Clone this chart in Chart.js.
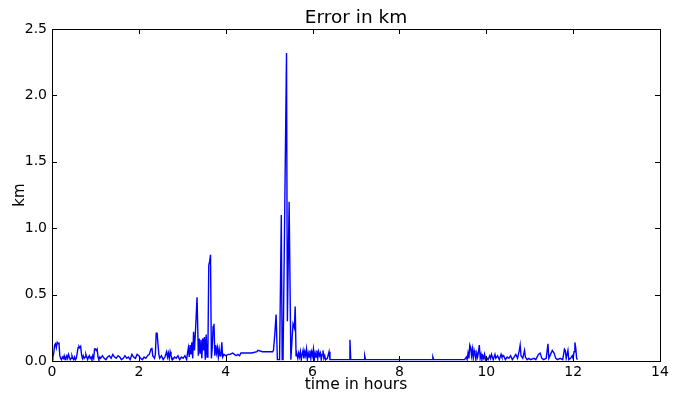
<!DOCTYPE html>
<html>
<head>
<meta charset="utf-8">
<title>Error in km</title>
<script src="https://cdn.jsdelivr.net/npm/chart.js@4.4.1/dist/chart.umd.min.js"></script>
<style>
  html, body { margin: 0; padding: 0; background: #fff; }
  #wrap { width: 681px; height: 394px; }
</style>
</head>
<body>
<div id="wrap"><canvas id="chart" width="681" height="394"></canvas></div>
<script>
// ── DATA ──────────────────────────────────────────────────────────────────
// (hours, km)
const timeHours = [
  0.00, 0.02, 0.04, 0.06, 0.08, 0.10, 0.12, 0.14, 0.16, 0.18, 0.20, 0.22, 0.24, 0.26, 0.28, 0.30,
  0.32, 0.34, 0.36, 0.38, 0.40, 0.42, 0.44, 0.46, 0.48, 0.50, 0.52, 0.54, 0.56, 0.58, 0.60, 0.62,
  0.64, 0.66, 0.68, 0.70, 0.72, 0.74, 0.76, 0.78, 0.80, 0.82, 0.84, 0.86, 0.88, 0.90, 0.92, 0.94,
  0.96, 0.98, 1.00, 1.02, 1.04, 1.06, 1.08, 1.10, 1.12, 1.16, 1.20, 1.24, 1.28, 1.32, 1.36, 1.40,
  1.44, 1.48, 1.52, 1.56, 1.60, 1.64, 1.68, 1.72, 1.76, 1.80, 1.84, 1.88, 1.92, 1.96, 2.00, 2.04,
  2.08, 2.12, 2.16, 2.20, 2.24, 2.28, 2.30, 2.32, 2.34, 2.36, 2.38, 2.40, 2.42, 2.44, 2.46, 2.48,
  2.52, 2.56, 2.60, 2.64, 2.66, 2.68, 2.70, 2.72, 2.74, 2.78, 2.82, 2.86, 2.90, 2.94, 2.98, 3.02,
  3.06, 3.10, 3.12, 3.14, 3.16, 3.18, 3.20, 3.22, 3.24, 3.26, 3.28, 3.30, 3.34, 3.37, 3.39, 3.41,
  3.43, 3.45, 3.47, 3.49, 3.51, 3.53, 3.55, 3.57, 3.59, 3.61, 3.63, 3.65, 3.67, 3.69, 3.71, 3.73,
  3.75, 3.77, 3.79, 3.81, 3.83, 3.85, 3.87, 3.89, 3.91, 3.93, 3.96, 4.00, 4.06, 4.10, 4.16, 4.20,
  4.24, 4.28, 4.32, 4.35, 4.45, 4.60, 4.72, 4.74, 4.85, 5.00, 5.08, 5.10, 5.13, 5.16, 5.19, 5.24,
  5.28, 5.30, 5.32, 5.40, 5.42, 5.46, 5.50, 5.53, 5.55, 5.58, 5.60, 5.62, 5.64, 5.66, 5.68, 5.70,
  5.72, 5.74, 5.76, 5.78, 5.80, 5.82, 5.84, 5.86, 5.88, 5.90, 5.92, 5.94, 5.96, 5.98, 6.00, 6.02,
  6.04, 6.06, 6.08, 6.10, 6.12, 6.14, 6.16, 6.18, 6.20, 6.22, 6.24, 6.26, 6.28, 6.30, 6.34, 6.38,
  6.40, 6.45, 6.60, 6.84, 6.86, 6.88, 7.00, 7.19, 7.20, 7.22, 7.50, 8.00, 8.40, 8.75, 8.77, 8.79,
  9.20, 9.50, 9.54, 9.56, 9.58, 9.60, 9.62, 9.64, 9.66, 9.68, 9.70, 9.72, 9.74, 9.76, 9.78, 9.80,
  9.82, 9.84, 9.86, 9.88, 9.90, 9.92, 9.94, 9.96, 9.98, 10.00, 10.04, 10.08, 10.10, 10.12, 10.16, 10.20,
  10.22, 10.26, 10.30, 10.34, 10.36, 10.40, 10.44, 10.48, 10.52, 10.56, 10.60, 10.64, 10.68, 10.72, 10.76, 10.78,
  10.80, 10.84, 10.88, 10.90, 10.94, 10.98, 11.02, 11.10, 11.14, 11.20, 11.24, 11.28, 11.32, 11.38, 11.42, 11.44,
  11.48, 11.52, 11.56, 11.60, 11.64, 11.70, 11.76, 11.80, 11.82, 11.84, 11.88, 11.90, 11.94, 11.98, 12.00, 12.02,
  12.04, 12.06, 12.08, 12.10
];
const errorKm = [
  0.05, 0.03, 0.06, 0.12, 0.13, 0.10, 0.14, 0.13, 0.14, 0.04, 0.02, 0.01, 0.03, 0.02, 0.04, 0.01,
  0.03, 0.04, 0.02, 0.05, 0.03, 0.01, 0.02, 0.04, 0.02, 0.01, 0.03, 0.01, 0.02, 0.06, 0.10, 0.11,
  0.10, 0.11, 0.05, 0.02, 0.04, 0.02, 0.03, 0.05, 0.03, 0.01, 0.03, 0.04, 0.02, 0.03, 0.01, 0.04,
  0.02, 0.09, 0.09, 0.08, 0.09, 0.03, 0.01, 0.03, 0.02, 0.04, 0.02, 0.01, 0.03, 0.04, 0.02, 0.05,
  0.03, 0.02, 0.04, 0.03, 0.01, 0.02, 0.04, 0.02, 0.03, 0.01, 0.05, 0.03, 0.02, 0.05, 0.04, 0.02,
  0.01, 0.03, 0.02, 0.04, 0.05, 0.09, 0.10, 0.04, 0.03, 0.02, 0.05, 0.21, 0.21, 0.21, 0.05, 0.02,
  0.04, 0.01, 0.03, 0.07, 0.03, 0.06, 0.02, 0.07, 0.04, 0.01, 0.03, 0.02, 0.04, 0.01, 0.03, 0.02,
  0.04, 0.01, 0.06, 0.10, 0.03, 0.12, 0.05, 0.14, 0.02, 0.22, 0.08, 0.20, 0.48, 0.04, 0.17, 0.06,
  0.16, 0.02, 0.17, 0.08, 0.18, 0.01, 0.20, 0.03, 0.08, 0.72, 0.75, 0.80, 0.02, 0.10, 0.26, 0.28,
  0.04, 0.12, 0.06, 0.10, 0.03, 0.09, 0.04, 0.05, 0.14, 0.03, 0.05, 0.04, 0.05, 0.05, 0.06, 0.05,
  0.04, 0.05, 0.04, 0.06, 0.06, 0.06, 0.07, 0.08, 0.07, 0.07, 0.07, 0.08, 0.20, 0.35, 0.01, 0.01,
  1.10, 0.01, 0.01, 2.32, 0.30, 1.20, 0.01, 0.18, 0.28, 0.25, 0.41, 0.04, 0.05, 0.02, 0.06, 0.03,
  0.07, 0.01, 0.05, 0.08, 0.02, 0.07, 0.04, 0.09, 0.01, 0.06, 0.03, 0.08, 0.02, 0.07, 0.04, 0.09,
  0.01, 0.06, 0.03, 0.08, 0.02, 0.07, 0.04, 0.06, 0.01, 0.05, 0.08, 0.02, 0.04, 0.01, 0.02, 0.07,
  0.01, 0.01, 0.01, 0.01, 0.16, 0.01, 0.01, 0.01, 0.04, 0.01, 0.01, 0.01, 0.01, 0.01, 0.03, 0.01,
  0.01, 0.01, 0.03, 0.01, 0.06, 0.02, 0.12, 0.10, 0.04, 0.09, 0.02, 0.08, 0.05, 0.01, 0.06, 0.03,
  0.07, 0.12, 0.02, 0.05, 0.01, 0.04, 0.02, 0.05, 0.01, 0.03, 0.01, 0.04, 0.02, 0.05, 0.01, 0.05,
  0.02, 0.04, 0.01, 0.05, 0.03, 0.04, 0.01, 0.03, 0.02, 0.04, 0.01, 0.03, 0.05, 0.02, 0.08, 0.12,
  0.04, 0.02, 0.08, 0.03, 0.01, 0.02, 0.01, 0.02, 0.01, 0.05, 0.06, 0.02, 0.01, 0.02, 0.13, 0.02,
  0.05, 0.08, 0.06, 0.02, 0.01, 0.02, 0.01, 0.09, 0.08, 0.02, 0.08, 0.01, 0.02, 0.04, 0.02, 0.07,
  0.14, 0.10, 0.02, 0.01
];
const xTicks = [0, 2, 4, 6, 8, 10, 12, 14];
const yTicks = [0.0, 0.5, 1.0, 1.5, 2.0, 2.5];
const chartTitle = 'Error in km';

const FONT = 'DejaVu Sans';

// ── FRAME + INWARD TICKS + TITLE (matplotlib look) ───────────────────────
// title is centred over the plot area, not the whole canvas
const frameTicks = {
  id: 'frameTicks',
  afterDatasetsDraw(chart) {
    const { ctx, chartArea: a, scales: { x, y } } = chart;
    const len = 5;
    ctx.save();
    ctx.strokeStyle = '#000';
    ctx.lineWidth = 1;
    ctx.beginPath();
    xTicks.forEach(v => {
      const px = Math.round(x.getPixelForValue(v)) + 0.5;
      ctx.moveTo(px, a.bottom); ctx.lineTo(px, a.bottom - len);
      ctx.moveTo(px, a.top);    ctx.lineTo(px, a.top + len);
    });
    yTicks.forEach(v => {
      const py = Math.round(y.getPixelForValue(v)) + 0.5;
      ctx.moveTo(a.left, py);  ctx.lineTo(a.left + len, py);
      ctx.moveTo(a.right, py); ctx.lineTo(a.right - len, py);
    });
    ctx.stroke();
    ctx.strokeRect(Math.round(a.left) + 0.5, Math.round(a.top) + 0.5,
                   Math.round(a.right - a.left), Math.round(a.bottom - a.top));

    ctx.fillStyle = '#000';
    ctx.font = `18.5px "${FONT}"`;
    ctx.textAlign = 'center';
    ctx.textBaseline = 'alphabetic';
    ctx.fillText(chartTitle, (a.left + a.right) / 2, a.top - 6);
    ctx.restore();
  }
};

const points = timeHours.map((t, i) => ({ x: t, y: errorKm[i] }));

new Chart(document.getElementById('chart'), {
  type: 'scatter',
  data: {
    datasets: [{
      data: points,
      showLine: true,
      borderColor: '#0000ff',
      borderWidth: 1.4,
      pointRadius: 0,
      tension: 0,
    }],
  },
  options: {
    responsive: false,
    animation: false,
    devicePixelRatio: 1,
    layout: { padding: { left: 0, right: 21, top: 29, bottom: 0 } },
    plugins: {
      legend: { display: false },
      tooltip: { enabled: false },
      title: { display: false },
    },
    scales: {
      x: {
        type: 'linear', min: 0, max: 14,
        afterBuildTicks: s => { s.ticks = xTicks.map(v => ({ value: v })); },
        afterFit: s => { s.height = 33; },
        grid: { display: false, drawTicks: false },
        border: { display: false },
        ticks: { color: '#000', font: { family: FONT, size: 14 }, padding: 3, maxRotation: 0, autoSkip: false },
        title: { display: true, text: 'time in hours', color: '#000', font: { family: FONT, size: 15.5 }, padding: { top: 0, bottom: 0 } },
      },
      y: {
        type: 'linear', min: 0, max: 2.5,
        afterBuildTicks: s => { s.ticks = yTicks.map(v => ({ value: v })); },
        afterFit: s => { s.width = 52; },
        grid: { display: false, drawTicks: false },
        border: { display: false },
        ticks: { color: '#000', font: { family: FONT, size: 14 }, padding: 5, callback: v => v.toFixed(1) },
        title: { display: true, text: 'km', color: '#000', font: { family: FONT, size: 15 }, padding: { top: 11, bottom: 0 } },
      },
    },
  },
  plugins: [frameTicks],
});
</script>
</body>
</html>
